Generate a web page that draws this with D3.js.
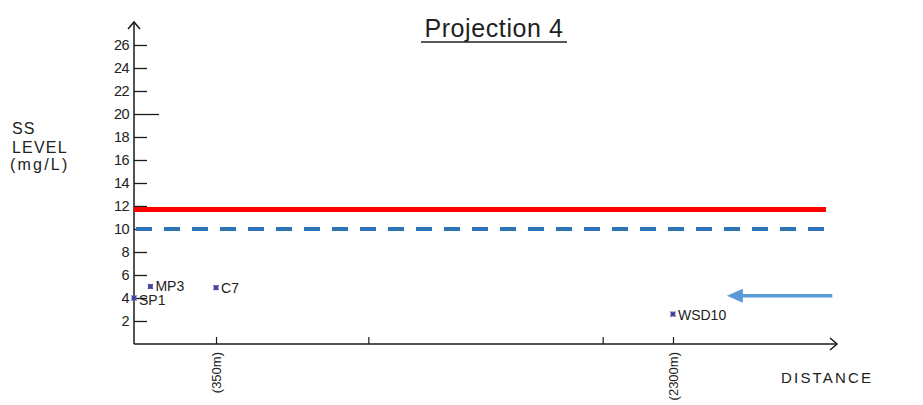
<!DOCTYPE html>
<html><head><meta charset="utf-8">
<script src="https://cdn.jsdelivr.net/npm/d3@7"></script>
<style>
html,body{margin:0;padding:0;background:#fff;}
svg{display:block;font-family:"Liberation Sans",Arial,sans-serif;}
</style></head>
<body>
<svg id="chart" width="923" height="405"></svg>
<script>
// ---- data ----
const stations = ["SP1", "MP3", "C7", "WSD10"];
const distances = [0, 70, 350, 2300];          // metres
const ssLevels = [4.0, 5.0, 4.9, 2.6];         // mg/L
const yTicks = [2,4,6,8,10,12,14,16,18,20,22,24,26];
const xTickLabelled = [350, 2300];
const xTickLabels = ["(350m)", "(2300m)"];
const xTickPlain = [1000, 2000];
const limitRed = 11.7;
const limitBlue = 10;
const arrowLevel = 4.2;
const arrowFrom = 2980, arrowTo = 2530;

const svg = d3.select("#chart");
const x = d3.scaleLinear().domain([0, 3000]).range([134, 837]);
const y = d3.scaleLinear().domain([0, 26]).range([344, 45]);
const ink = "#1a1a1a";

// title
svg.append("text").attr("x", 494).attr("y", 37).attr("text-anchor","middle")
  .attr("font-size", 25).attr("letter-spacing",0.6).attr("fill", "#222").text("Projection 4");
svg.append("line").attr("x1",421).attr("x2",567).attr("y1",42).attr("y2",42)
  .attr("stroke","#222").attr("stroke-width",1.6);

// y axis label
const yl = svg.append("g").attr("font-size",16).attr("fill","#222").attr("letter-spacing",1.2);
yl.append("text").attr("x",12).attr("y",134).text("SS");
yl.append("text").attr("x",12).attr("y",153).text("LEVEL");
yl.append("text").attr("x",10).attr("y",170).attr("letter-spacing",2.2).text("(mg/L)");

// y axis
const yAxis = d3.axisRight(y).tickValues(yTicks).tickSize(13).tickFormat("");
const gy = svg.append("g").attr("transform", `translate(${x(0)},0)`).call(yAxis);
gy.select(".domain").remove();
gy.selectAll(".tick line").attr("stroke", ink).attr("stroke-width",1.3)
  .attr("x2", d => d === 20 ? 25 : 13);
svg.append("line").attr("x1",x(0)).attr("x2",x(0)).attr("y1",22).attr("y2",y(0))
  .attr("stroke",ink).attr("stroke-width",1.5);
svg.append("path").attr("d",`M${x(0)-6},${29} L${x(0)},${22} L${x(0)+6},${29}`)
  .attr("fill","none").attr("stroke",ink).attr("stroke-width",1.5);
svg.append("g").selectAll("text").data(yTicks).join("text")
  .attr("x",129).attr("y",d=>y(d)+5).attr("text-anchor","end")
  .attr("font-size",14.5).attr("letter-spacing",-0.6).attr("fill","#222").text(d=>d);

// x axis
svg.append("line").attr("x1",x(0)).attr("x2",x(3000)).attr("y1",y(0)).attr("y2",y(0))
  .attr("stroke",ink).attr("stroke-width",1.5);
svg.append("path").attr("d",`M${x(3000)-7},${y(0)-6} L${x(3000)},${y(0)} L${x(3000)-7},${y(0)+6}`)
  .attr("fill","none").attr("stroke",ink).attr("stroke-width",1.5);
const xAxis = d3.axisTop(x).tickValues(xTickLabelled.concat(xTickPlain)).tickSize(7).tickFormat("");
const gx = svg.append("g").attr("transform",`translate(0,${y(0)})`).call(xAxis);
gx.select(".domain").remove();
gx.selectAll(".tick line").attr("stroke",ink).attr("stroke-width",1.2);
svg.append("g").selectAll("text").data(xTickLabelled).join("text")
  .attr("transform", d => `translate(${x(d)+5},352) rotate(-90)`)
  .attr("text-anchor","end").attr("font-size",13).attr("fill","#222")
  .text((d,i)=>xTickLabels[i]);
svg.append("text").attr("x",781).attr("y",383).attr("font-size",15)
  .attr("letter-spacing",2.2).attr("fill","#222").text("DISTANCE");

// limit lines
svg.append("line").attr("x1",x(0)).attr("x2",826).attr("y1",y(limitRed)).attr("y2",y(limitRed))
  .attr("stroke","#ff0000").attr("stroke-width",5);
svg.append("line").attr("x1",x(0)+2).attr("x2",826).attr("y1",y(limitBlue)).attr("y2",y(limitBlue))
  .attr("stroke","#2e75b6").attr("stroke-width",4).attr("stroke-dasharray","16,12");

// points
const labelDy = [7, 4, 5.5, 5.5];
const pts = svg.append("g");
stations.forEach((s,i)=>{
  const cx = x(distances[i]), cy = y(ssLevels[i]);
  pts.append("rect").attr("x",cx-2.5).attr("y",cy-2.5).attr("width",5).attr("height",5)
    .attr("fill","#5b5bb5");
  pts.append("path").attr("d",`M${cx-2.5},${cy-2.5}L${cx+2.5},${cy+2.5}M${cx+2.5},${cy-2.5}L${cx-2.5},${cy+2.5}`)
    .attr("stroke","#2a2a80").attr("stroke-width",0.8);
  pts.append("text").attr("x",cx+5).attr("y",cy+labelDy[i]).attr("font-size",14)
    .attr("fill","#222").text(s);
});

// blue arrow
const ay = y(arrowLevel);
svg.append("line").attr("x1",x(arrowFrom)).attr("x2",x(arrowTo)+14).attr("y1",ay).attr("y2",ay)
  .attr("stroke","#5b9bd5").attr("stroke-width",3.5);
svg.append("path").attr("d",`M${x(arrowTo)},${ay} L${x(arrowTo)+16},${ay-7} L${x(arrowTo)+16},${ay+7} Z`)
  .attr("fill","#5b9bd5");
</script>
</body></html>
